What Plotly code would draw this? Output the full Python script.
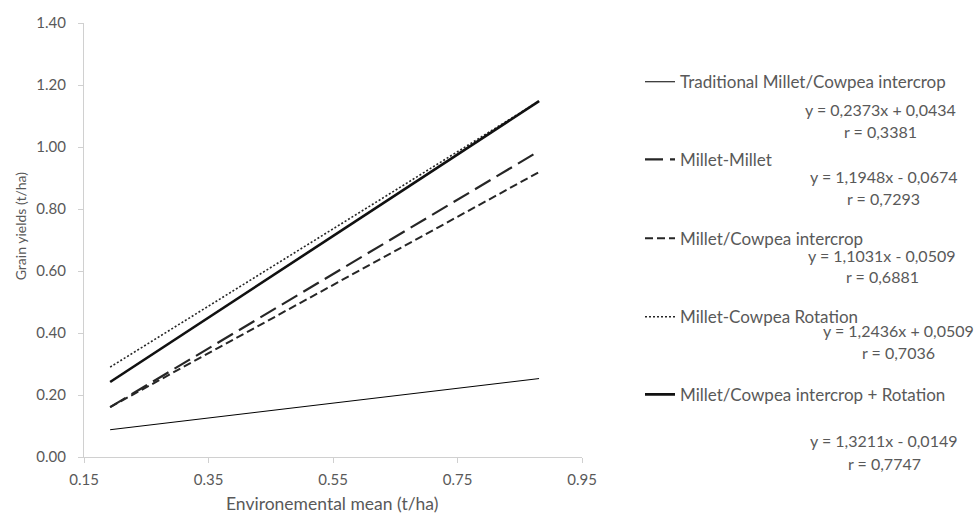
import plotly.graph_objects as go

# ---- data ----
x_range_pts = [0.192, 0.881]
series_names = [
    "Traditional Millet/Cowpea intercrop",
    "Millet-Millet",
    "Millet/Cowpea intercrop",
    "Millet-Cowpea Rotation",
    "Millet/Cowpea intercrop + Rotation",
]
trad = [0.088, 0.253]
millet_millet = [0.161, 0.987]
millet_cowpea_ic = [0.161, 0.919]
millet_cowpea_rot = [0.290, 1.148]
ic_rotation = [0.242, 1.148]
equations = [
    "y = 0,2373x + 0,0434",
    "y = 1,1948x - 0,0674",
    "y = 1,1031x - 0,0509",
    "y = 1,2436x + 0,0509",
    "y = 1,3211x - 0,0149",
]
r_values = ["r = 0,3381", "r = 0,7293", "r = 0,6881", "r = 0,7036", "r = 0,7747"]
x_ticks = [0.15, 0.35, 0.55, 0.75, 0.95]
y_ticks = [0.0, 0.2, 0.4, 0.6, 0.8, 1.0, 1.2, 1.4]

FONT = "Lato"
GRAY = "#595959"
W, H = 976, 516
L, R, T, B = 84, 581.7, 22.7, 456.7

styles = [
    dict(width=1, dash="solid", color="#000000"),
    dict(width=2.2, dash="18px,7px", color="#262626"),
    dict(width=2, dash="8px,4px", color="#262626"),
    dict(width=1.6, dash="2px,2px", color="#262626"),
    dict(width=2.6, dash="solid", color="#111111"),
]
ys = [trad, millet_millet, millet_cowpea_ic, millet_cowpea_rot, ic_rotation]
legend_centers = [81.7, 159.3, 238.3, 316.7, 394.3]
legend_ids = ["legend", "legend2", "legend3", "legend4", "legend5"]

fig = go.Figure()
for i, (name, y, st) in enumerate(zip(series_names, ys, styles)):
    fig.add_trace(go.Scatter(
        x=x_range_pts, y=y, mode="lines", name=name,
        line=dict(color=st["color"], width=st["width"], dash=st["dash"]),
        legend=legend_ids[i],
    ))


def px_to_paper_x(px):
    return (px - L) / (R - L)


def px_to_paper_y(py):
    return (B - py) / (B - T)


eq_pos = [(880, 109, 880, 130.7), (883.7, 176, 883, 198), (881.7, 255, 881.7, 276),
          (898, 330, 898, 352), (883.7, 440, 884, 462.7)]
annotations = []
for eq, rv, (ex, ey, rx, ry) in zip(equations, r_values, eq_pos):
    annotations.append(dict(text=eq, x=px_to_paper_x(ex), y=px_to_paper_y(ey), xref="paper", yref="paper",
                            showarrow=False, xanchor="center", yanchor="middle",
                            font=dict(family=FONT, size=16, color=GRAY)))
    annotations.append(dict(text=rv, x=px_to_paper_x(rx), y=px_to_paper_y(ry), xref="paper", yref="paper",
                            showarrow=False, xanchor="center", yanchor="middle",
                            font=dict(family=FONT, size=16, color=GRAY)))

annotations.append(dict(text="Environemental mean (t/ha)", x=px_to_paper_x(332), y=px_to_paper_y(503),
                        xref="paper", yref="paper", showarrow=False, xanchor="center", yanchor="middle",
                        font=dict(family=FONT, size=17.5, color=GRAY)))
annotations.append(dict(text="Grain yields (t/ha)", x=px_to_paper_x(20), y=px_to_paper_y(225),
                        xref="paper", yref="paper", showarrow=False, xanchor="center", yanchor="middle",
                        textangle=-90, font=dict(family=FONT, size=14, color=GRAY)))

layout_legends = {}
for lid, cy in zip(legend_ids, legend_centers):
    layout_legends[lid] = dict(
        xref="container", yref="container",
        x=640 / W, y=1 - (cy - 17.5) / H,
        xanchor="left", yanchor="top",
        font=dict(family=FONT, size=17, color=GRAY), bgcolor="rgba(0,0,0,0)",
    )

fig.update_layout(
    width=W, height=H,
    margin=dict(l=L, r=W - R, t=T, b=H - B, pad=0, autoexpand=False),
    paper_bgcolor="white", plot_bgcolor="white",
    font=dict(family=FONT, size=15, color=GRAY),
    showlegend=True,
    annotations=annotations,
    xaxis=dict(range=[0.15, 0.95], tickvals=x_ticks, ticktext=[f"{v:.2f}" for v in x_ticks],
               showgrid=False, zeroline=False, showline=True, linecolor="#d0d0d0", linewidth=1,
               ticks="outside", ticklen=5, tickcolor="#d0d0d0", ticklabelstandoff=4, automargin=False,
               tickfont=dict(family=FONT, size=15, color=GRAY)),
    yaxis=dict(range=[0, 1.4], tickvals=y_ticks, ticktext=[f"{v:.2f}" for v in y_ticks],
               showgrid=False, zeroline=False, showline=True, linecolor="#d0d0d0", linewidth=1,
               ticks="outside", ticklen=5, tickcolor="#d0d0d0", ticklabelstandoff=9, automargin=False,
               tickfont=dict(family=FONT, size=15, color=GRAY)),
    **layout_legends,
)

fig.write_html(
    "out.html",
    config={"displayModeBar": False},
    post_script="document.body.style.margin='0';document.body.style.overflow='hidden';",
)
